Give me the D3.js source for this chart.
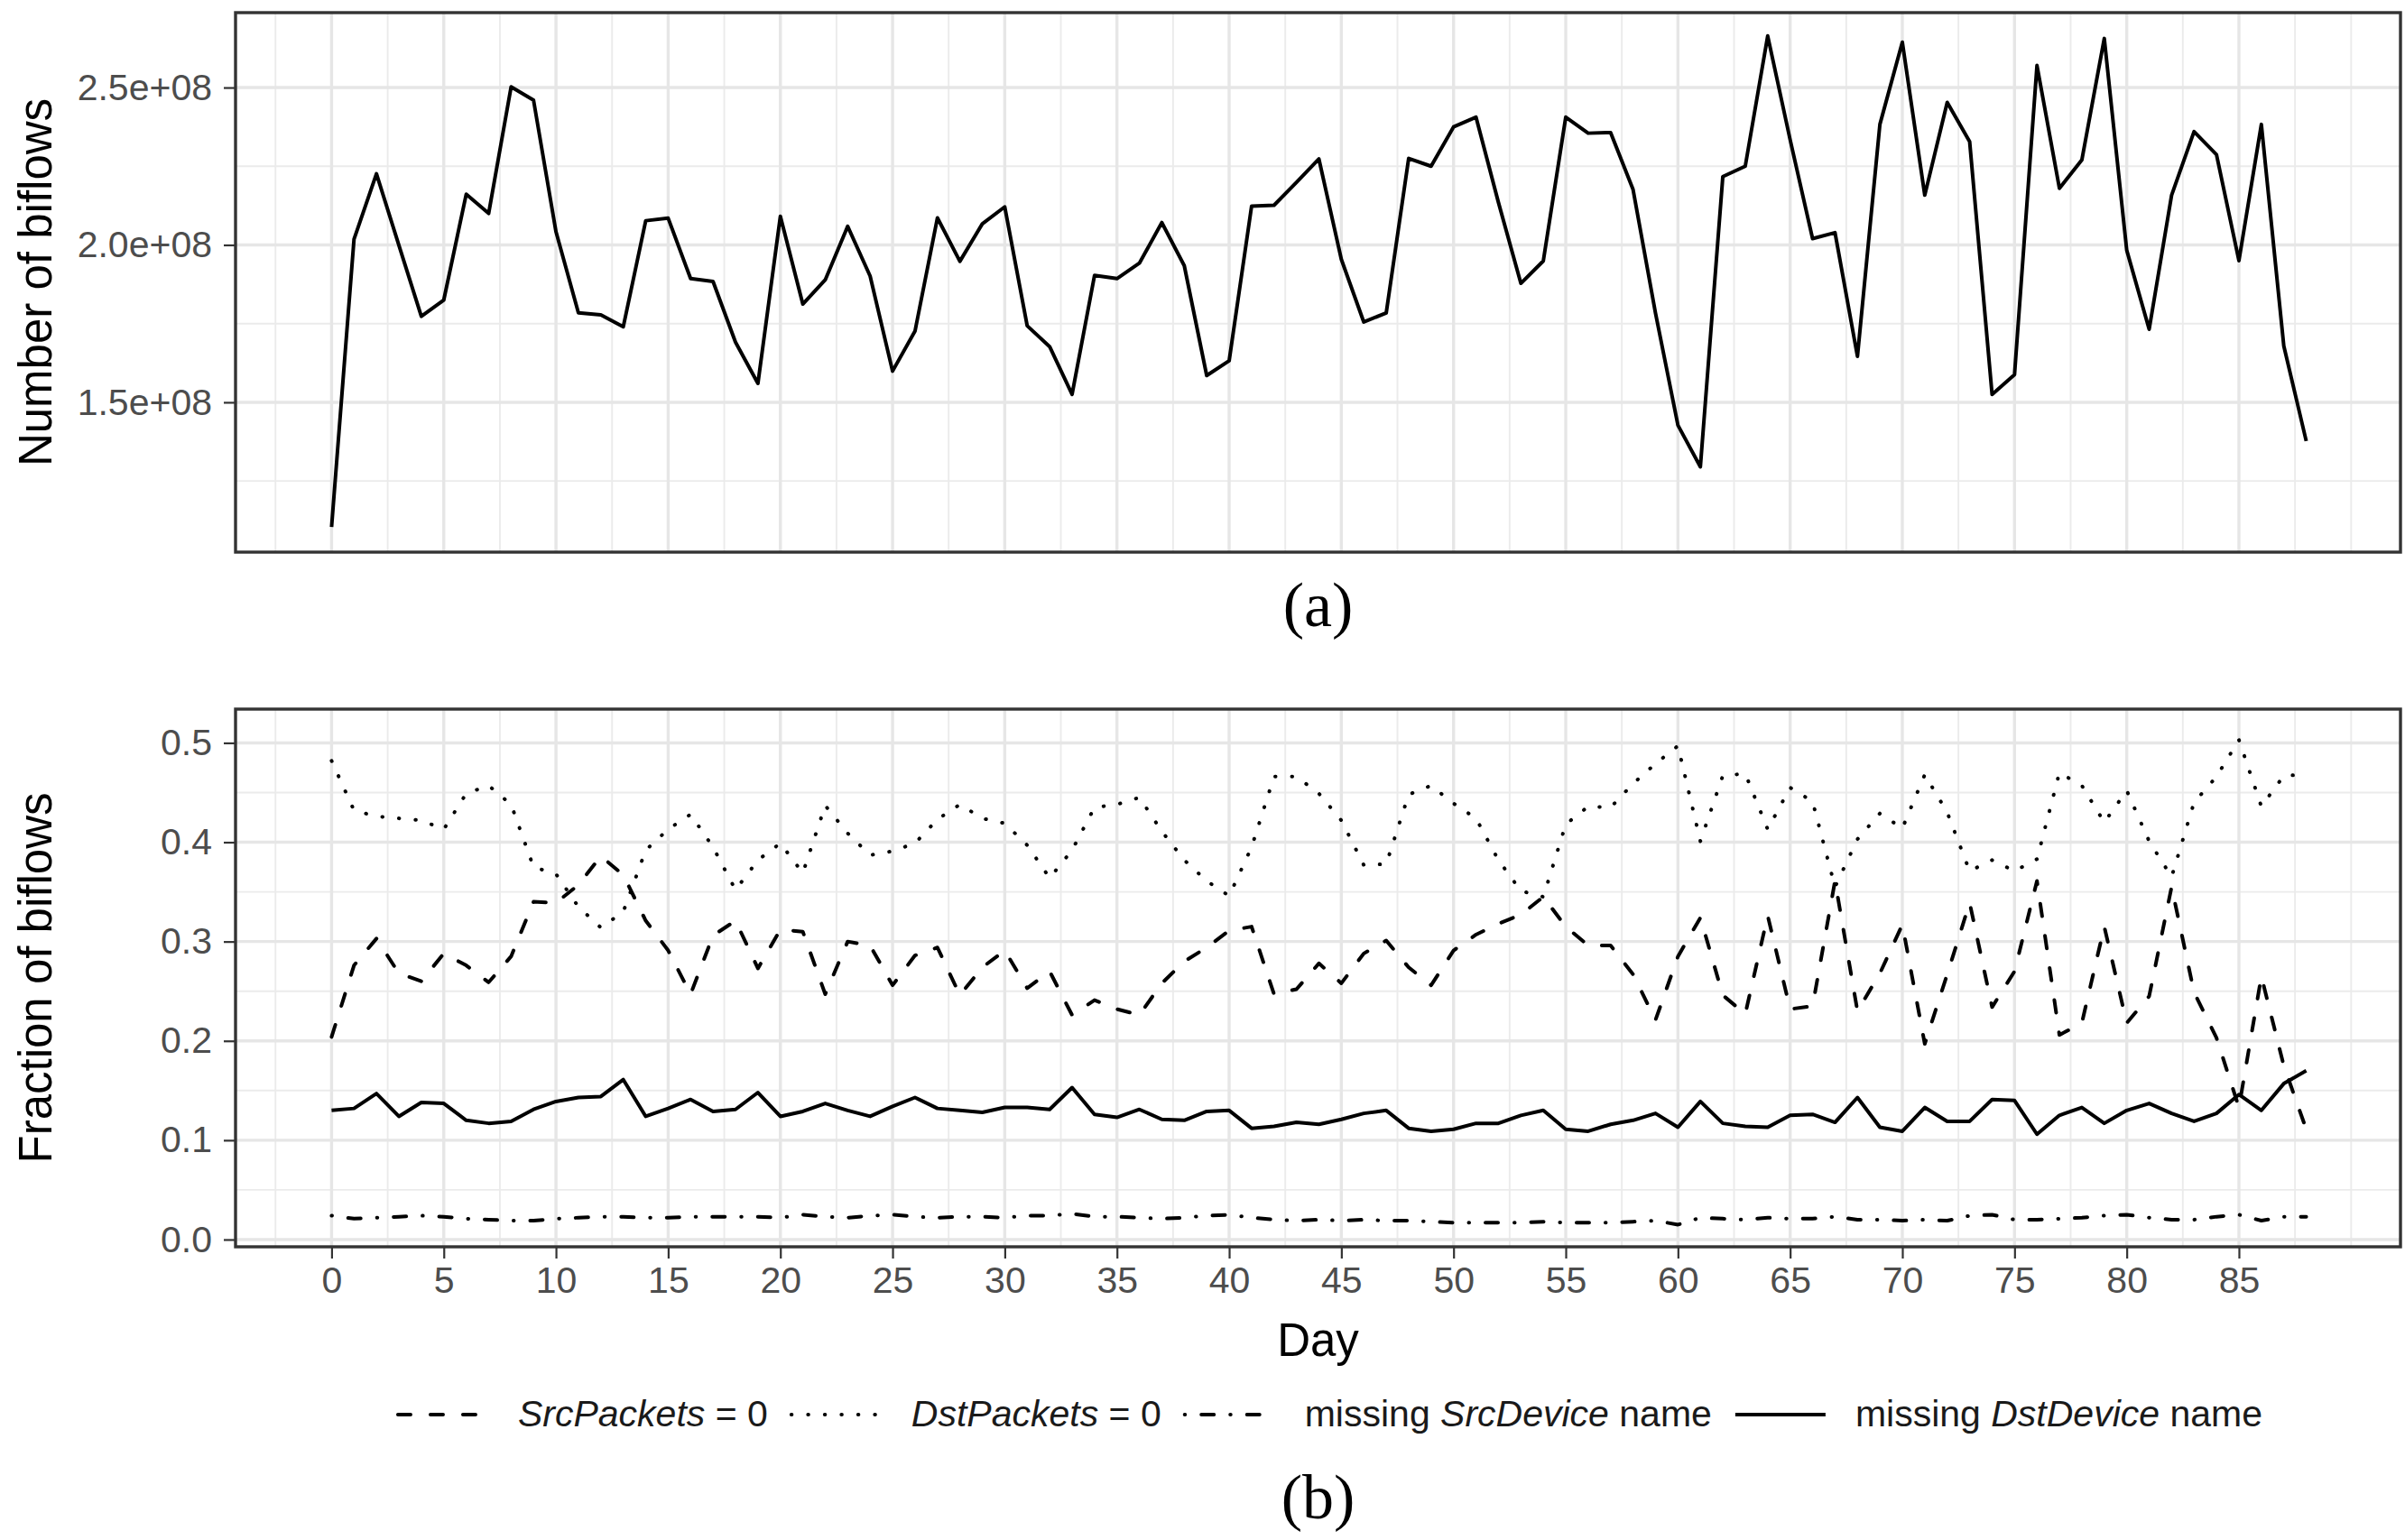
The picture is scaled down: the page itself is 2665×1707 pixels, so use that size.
<!DOCTYPE html>
<html>
<head>
<meta charset="utf-8">
<script src="https://cdn.jsdelivr.net/npm/d3@7/dist/d3.min.js"></script>
<style>
    body { margin: 0; background: #ffffff; }
    svg { display: block; }
    text { white-space: pre; }
</style>
</head>
<body>
<div id="chart"></div>
<script>
// day index of every sample (x of both panels)
const days = d3.range(0, 89);

// (a) number of biflows per day, in units of 1e8
const biflowsE8 = [
    1.104, 2.018, 2.226, 1.999, 1.773, 1.825, 2.161, 2.100, 2.502, 2.460,
    2.042, 1.784, 1.778, 1.740, 2.077, 2.085, 1.893, 1.884, 1.691, 1.560,
    2.091, 1.812, 1.889, 2.059, 1.901, 1.599, 1.726, 2.086, 1.948, 2.067,
    2.121, 1.743, 1.677, 1.525, 1.903, 1.893, 1.942, 2.071, 1.934, 1.585,
    1.632, 2.123, 2.126, 2.199, 2.273, 1.954, 1.755, 1.784, 2.275, 2.250,
    2.375, 2.406, 2.135, 1.878, 1.949, 2.406, 2.355, 2.357, 2.176, 1.783,
    1.427, 1.295, 2.217, 2.250, 2.664, 2.334, 2.020, 2.039, 1.646, 2.383,
    2.644, 2.158, 2.453, 2.328, 1.525, 1.588, 2.570, 2.180, 2.270, 2.656,
    1.983, 1.732, 2.158, 2.360, 2.287, 1.950, 2.383, 1.679, 1.377
];

// (b) fraction of biflows per day
const srcPacketsZero = [
    0.204, 0.276, 0.303, 0.268, 0.260, 0.288, 0.276, 0.259, 0.285, 0.340,
    0.339, 0.357, 0.386, 0.367, 0.321, 0.291, 0.247, 0.306, 0.321, 0.273,
    0.312, 0.310, 0.247, 0.300, 0.296, 0.256, 0.286, 0.294, 0.246, 0.274,
    0.291, 0.253, 0.270, 0.226, 0.241, 0.232, 0.226, 0.258, 0.280, 0.294,
    0.311, 0.315, 0.247, 0.252, 0.278, 0.258, 0.288, 0.301, 0.274, 0.256,
    0.291, 0.307, 0.318, 0.327, 0.345, 0.315, 0.296, 0.296, 0.267, 0.221,
    0.285, 0.324, 0.246, 0.227, 0.326, 0.232, 0.235, 0.361, 0.230, 0.268,
    0.317, 0.197, 0.267, 0.339, 0.234, 0.270, 0.361, 0.206, 0.218, 0.315,
    0.218, 0.245, 0.355, 0.249, 0.203, 0.133, 0.265, 0.175, 0.111
];
const dstPacketsZero = [
    0.482, 0.432, 0.426, 0.424, 0.422, 0.413, 0.449, 0.457, 0.438, 0.375,
    0.368, 0.335, 0.314, 0.330, 0.392, 0.413, 0.428, 0.395, 0.352, 0.382,
    0.399, 0.369, 0.437, 0.409, 0.387, 0.391, 0.399, 0.423, 0.438, 0.424,
    0.419, 0.397, 0.364, 0.392, 0.435, 0.438, 0.445, 0.411, 0.382, 0.361,
    0.346, 0.395, 0.466, 0.466, 0.449, 0.422, 0.377, 0.378, 0.448, 0.457,
    0.439, 0.424, 0.382, 0.351, 0.345, 0.418, 0.436, 0.435, 0.459, 0.479,
    0.497, 0.401, 0.467, 0.469, 0.413, 0.455, 0.441, 0.355, 0.403, 0.429,
    0.414, 0.468, 0.430, 0.371, 0.382, 0.371, 0.383, 0.470, 0.457, 0.420,
    0.452, 0.401, 0.365, 0.440, 0.466, 0.503, 0.436, 0.467, 0.468
];
const missingSrcDevice = [
    0.024, 0.021, 0.022, 0.023, 0.024, 0.023, 0.021, 0.020, 0.019, 0.019,
    0.021, 0.022, 0.023, 0.023, 0.022, 0.022, 0.023, 0.023, 0.023, 0.023,
    0.022, 0.025, 0.023, 0.022, 0.024, 0.025, 0.023, 0.022, 0.023, 0.023,
    0.022, 0.024, 0.024, 0.026, 0.023, 0.023, 0.022, 0.021, 0.022, 0.024,
    0.025, 0.022, 0.020, 0.019, 0.020, 0.019, 0.020, 0.019, 0.019, 0.018,
    0.017, 0.017, 0.017, 0.017, 0.018, 0.017, 0.017, 0.017, 0.018, 0.019,
    0.015, 0.022, 0.021, 0.020, 0.022, 0.021, 0.021, 0.023, 0.020, 0.020,
    0.019, 0.020, 0.019, 0.024, 0.025, 0.020, 0.020, 0.021, 0.022, 0.024,
    0.025, 0.022, 0.020, 0.020, 0.023, 0.025, 0.019, 0.023, 0.023
];
const missingDstDevice = [
    0.130, 0.132, 0.147, 0.124, 0.138, 0.137, 0.120, 0.117, 0.119, 0.131,
    0.139, 0.143, 0.144, 0.161, 0.124, 0.132, 0.141, 0.129, 0.131, 0.148,
    0.124, 0.129, 0.137, 0.130, 0.124, 0.134, 0.143, 0.132, 0.130, 0.128,
    0.133, 0.133, 0.131, 0.153, 0.126, 0.123, 0.131, 0.121, 0.120, 0.129,
    0.130, 0.112, 0.114, 0.118, 0.116, 0.121, 0.127, 0.130, 0.112, 0.109,
    0.111, 0.117, 0.117, 0.125, 0.130, 0.111, 0.109, 0.116, 0.120, 0.127,
    0.113, 0.139, 0.117, 0.114, 0.113, 0.125, 0.126, 0.118, 0.143, 0.113,
    0.109, 0.133, 0.119, 0.119, 0.141, 0.140, 0.106, 0.125, 0.133, 0.117,
    0.130, 0.137, 0.127, 0.119, 0.127, 0.146, 0.130, 0.157, 0.170
];

// ticks and grid breaks
const biflowTicks = [1.5, 2.0, 2.5];
const biflowMinorTicks = [1.25, 1.75, 2.25];
const fractionTicks = [0.0, 0.1, 0.2, 0.3, 0.4, 0.5];
const fractionMinorTicks = [0.05, 0.15, 0.25, 0.35, 0.45];
const dayTicks = [0, 5, 10, 15, 20, 25, 30, 35, 40, 45, 50, 55, 60, 65, 70, 75, 80, 85];
const dayMinorTicks = [-2.5, 2.5, 7.5, 12.5, 17.5, 22.5, 27.5, 32.5, 37.5, 42.5,
    47.5, 52.5, 57.5, 62.5, 67.5, 72.5, 77.5, 82.5, 87.5, 90];

// legend entries: [text, italic]
const legendLabels = [
    [["SrcPackets", true], [" = 0", false]],
    [["DstPackets", true], [" = 0", false]],
    [["missing ", false], ["SrcDevice", true], [" name", false]],
    [["missing ", false], ["DstDevice", true], [" name", false]]
];

const SANS = "'Liberation Sans', Arial, Helvetica, sans-serif";
const SERIF = "'Liberation Serif', 'DejaVu Serif', serif";

class BiflowChartBuilder {
    constructor() {
        this.width = 2665;
        this.height = 1707;
        this.left = 261;
        this.right = 2660;
        this.lineWidth = 4;
        // dash patterns, ggplot "44", "13", "1343" with round caps
        this.dashes = ["14,22", "0.5,18", "0.5,18,14,18", null];
        this.svg = null;
        this.x = null;
    }

    buildCanvas() {
        this.svg = d3.select("#chart").append("svg")
            .attr("xmlns", "http://www.w3.org/2000/svg")
            .attr("width", this.width)
            .attr("height", this.height);
        this.svg.append("rect")
            .attr("width", this.width).attr("height", this.height)
            .attr("fill", "#ffffff");
        this.x = d3.scaleLinear().domain([-4.28, 92.2]).range([this.left, this.right]);
    }

    /**
     * grid, y axis, and (optionally) x axis of one panel
     */
    buildPanel(top, bottom, y, majorY, minorY, formatY, withXAxis) {
        const g = this.svg.append("g");
        const grid = g.append("g");

        // minor grid first, major on top
        grid.selectAll("line.vminor").data(dayMinorTicks).enter().append("line")
            .attr("x1", d => this.x(d)).attr("x2", d => this.x(d))
            .attr("y1", top).attr("y2", bottom)
            .attr("stroke", "#ebebeb").attr("stroke-width", 1.9);
        grid.selectAll("line.hminor").data(minorY).enter().append("line")
            .attr("x1", this.left).attr("x2", this.right)
            .attr("y1", d => y(d)).attr("y2", d => y(d))
            .attr("stroke", "#ebebeb").attr("stroke-width", 1.9);
        grid.selectAll("line.vmajor").data(dayTicks).enter().append("line")
            .attr("x1", d => this.x(d)).attr("x2", d => this.x(d))
            .attr("y1", top).attr("y2", bottom)
            .attr("stroke", "#e6e6e6").attr("stroke-width", 3.4);
        grid.selectAll("line.hmajor").data(majorY).enter().append("line")
            .attr("x1", this.left).attr("x2", this.right)
            .attr("y1", d => y(d)).attr("y2", d => y(d))
            .attr("stroke", "#e6e6e6").attr("stroke-width", 3.4);

        const yAxis = g.append("g")
            .attr("transform", "translate(" + this.left + ",0)")
            .call(d3.axisLeft(y).tickValues(majorY).tickSize(13).tickPadding(13).tickFormat(formatY));
        this.styleAxis(yAxis);

        if( withXAxis ) {
            const xAxis = g.append("g")
                .attr("transform", "translate(0," + bottom + ")")
                .call(d3.axisBottom(this.x).tickValues(dayTicks).tickSize(13).tickPadding(9).tickFormat(d3.format("d")));
            this.styleAxis(xAxis);
        }

        this.panels = this.panels || [];
        this.panels.push({ top, bottom });
        return g;
    }

    styleAxis(axis) {
        axis.select(".domain").remove();
        axis.selectAll(".tick line").attr("stroke", "#333333").attr("stroke-width", 2.2);
        axis.selectAll(".tick text")
            .style("font-family", SANS)
            .style("font-size", "41px")
            .attr("fill", "#4d4d4d");
    }

    drawSeries(g, y, values, dash) {
        const line = d3.line()
            .x(d => this.x(d[0]))
            .y(d => y(d[1]));
        g.append("path")
            .datum(days.map((d, i) => [d, values[i]]))
            .attr("d", line)
            .attr("fill", "none")
            .attr("stroke", "#000000")
            .attr("stroke-width", this.lineWidth)
            .attr("stroke-linejoin", "round")
            .attr("stroke-linecap", dash ? "round" : "butt")
            .attr("stroke-dasharray", dash);
    }

    drawBorders() {
        this.panels.forEach(p => {
            this.svg.append("rect")
                .attr("x", this.left).attr("y", p.top)
                .attr("width", this.right - this.left)
                .attr("height", p.bottom - p.top)
                .attr("fill", "none")
                .attr("stroke", "#333333")
                .attr("stroke-width", 3.4);
        });
    }

    label(text, x, y, size, family, rotate) {
        this.svg.append("text")
            .attr("transform", "translate(" + [x, y] + ")" + (rotate ? "rotate(-90)" : ""))
            .attr("text-anchor", "middle")
            .style("font-family", family)
            .style("font-size", size + "px")
            .attr("fill", "#000000")
            .text(text);
    }

    buildLegend(centerX, baseY) {
        const keyWidth = 104;
        const keyGap = 31;
        const itemGap = 24;
        const lineY = baseY - 13;
        const legend = this.svg.append("g");

        // first pass: texts, so their widths can be measured
        const items = legendLabels.map((parts, i) => {
            const item = legend.append("g");
            const text = item.append("text")
                .attr("y", baseY)
                .style("font-family", SANS)
                .style("font-size", "41px")
                .attr("fill", "#1a1a1a");
            parts.forEach(p => {
                text.append("tspan")
                    .style("font-style", p[1] ? "italic" : "normal")
                    .text(p[0]);
            });
            return { item, text, width: text.node().getComputedTextLength(), dash: this.dashes[i] };
        });

        const total = d3.sum(items, d => keyWidth + keyGap + d.width) + itemGap * (items.length - 1);
        let cursor = centerX - total / 2;
        items.forEach(d => {
            d.item.append("line")
                .attr("x1", cursor + 2).attr("x2", cursor + keyWidth - 2)
                .attr("y1", lineY).attr("y2", lineY)
                .attr("stroke", "#000000")
                .attr("stroke-width", this.lineWidth)
                .attr("stroke-linecap", d.dash ? "round" : "butt")
                .attr("stroke-dasharray", d.dash);
            d.text.attr("x", cursor + keyWidth + keyGap);
            cursor += keyWidth + keyGap + d.width + itemGap;
        });
    }

    build() {
        this.buildCanvas();

        // (a)
        const yTop = d3.scaleLinear().domain([1.024, 2.738]).range([612, 14]);
        const gTop = this.buildPanel(14, 612, yTop, biflowTicks, biflowMinorTicks,
            v => v.toFixed(1) + "e+08", false);
        this.drawSeries(gTop, yTop, biflowsE8, null);

        // (b)
        const yBottom = d3.scaleLinear().domain([-0.0073, 0.534]).range([1382, 786]);
        const gBottom = this.buildPanel(786, 1382, yBottom, fractionTicks, fractionMinorTicks,
            d3.format(".1f"), true);
        this.drawSeries(gBottom, yBottom, srcPacketsZero, this.dashes[0]);
        this.drawSeries(gBottom, yBottom, dstPacketsZero, this.dashes[1]);
        this.drawSeries(gBottom, yBottom, missingSrcDevice, this.dashes[2]);
        this.drawSeries(gBottom, yBottom, missingDstDevice, this.dashes[3]);

        this.drawBorders();

        const midX = (this.left + this.right) / 2;
        this.label("Number of biflows", 57, 313, 51, SANS, true);
        this.label("Fraction of biflows", 57, 1084, 51, SANS, true);
        this.label("Day", midX, 1503, 51, SANS, false);
        this.label("(a)", midX, 694, 70, SERIF, false);
        this.label("(b)", midX, 1683, 70, SERIF, false);

        this.buildLegend(1473, 1581);
    }
}

new BiflowChartBuilder().build();
</script>
</body>
</html>
